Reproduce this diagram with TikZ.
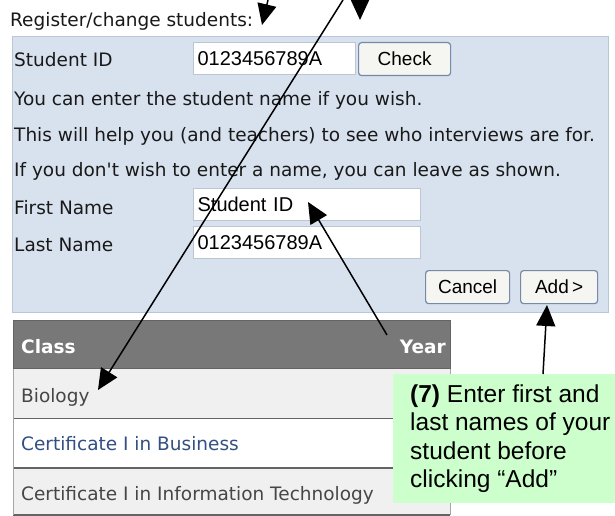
\documentclass[tikz,border=0pt]{standalone}
\usepackage{fontspec}
\setmainfont{DejaVu Sans}
\newfontfamily\formfont{Liberation Sans}
\usepackage{tikz}
\usetikzlibrary{arrows.meta,positioning,calc}
\usepackage{xcolor}
\definecolor{panelblue}{RGB}{216,226,238}
\definecolor{panelline}{RGB}{186,198,216}
\definecolor{fieldline}{RGB}{188,198,210}
\definecolor{btnline}{RGB}{118,138,168}
\definecolor{btnfill}{RGB}{245,245,241}
\definecolor{headgrey}{RGB}{120,120,120}
\definecolor{rowgrey}{RGB}{240,240,240}
\definecolor{rowline}{RGB}{100,100,100}
\definecolor{uitext}{RGB}{25,25,25}
\definecolor{cellgrey}{RGB}{70,70,70}
\definecolor{linkblue}{RGB}{50,80,130}
\definecolor{notegreen}{RGB}{204,255,204}
\tikzset{
    formlabel/.style={anchor=base west, inner sep=0pt, font=\fontsize{18.5}{22}\selectfont, text=uitext},
    formpanel/.style={draw=panelline, fill=panelblue, line width=1pt, anchor=north west, inner sep=0pt},
    formfield/.style={draw=fieldline, fill=white, line width=1.2pt, anchor=north west, inner xsep=4pt, inner ysep=0pt, minimum height=32pt, text width=#1, align=left, font=\formfont\fontsize{20}{22}\selectfont},
    formbutton/.style={draw=btnline, fill=btnfill, line width=1.2pt, rounded corners=3pt, anchor=north west, inner sep=0pt, minimum height=33pt, font=\formfont\fontsize{19}{22}\selectfont},
    tablehead/.style={fill=headgrey, draw=rowline, line width=1pt, anchor=north west, inner sep=0pt},
    tablerow/.style={minimum width=437pt, inner sep=0pt, anchor=north west},
    headtext/.style={inner sep=0pt, text=white, font=\bfseries\fontsize{18.5}{22}\selectfont},
    celltext/.style={anchor=base west, inner sep=0pt, font=\fontsize{18.5}{22}\selectfont},
    rowrule/.style={draw=rowline, line width=1.5pt},
    tableedge/.style={draw=gray!70, line width=1pt},
    notebox/.style={fill=notegreen, inner sep=0pt, anchor=north west},
    notetext/.style={align=left, inner sep=0pt, font=\formfont\fontsize{24.5}{28.5}\selectfont},
    callout/.style={-{Triangle[length=21pt,width=19pt]}, line width=1.5pt}
}
\begin{document}
\begin{tikzpicture}[x=1pt,y=-1pt]
        \clip (0,0) rectangle (615,516);
        \fill[white] (0,0) rectangle (615,516);

        \node[formlabel] (regtitle) at (10,27) {Register/change students:};

        % form panel
        \node[formpanel, minimum width=596pt, minimum height=276pt] (panel) at (12,36) {};
        \node[formlabel] (idlabel) at (14,67) {Student ID};
        \node[formfield=154pt] (idfield) at (193,42) {0123456789A};
        \node[formbutton, minimum width=92pt] (checkbtn) at (358,42) {Check};
        \node[formlabel] (hintone) at (14,106) {You can enter the student name if you wish.};
        \node[formlabel] (hinttwo) at (14,141) {This will help you (and teachers) to see who interviews are for.};
        \node[formlabel] (hintthree) at (14,176) {If you don\textquotesingle t wish to enter a name, you can leave as shown.};
        \node[formlabel] (firstlabel) at (14,214) {First Name};
        \node[formfield=219pt] (firstfield) at (193,188) {Student ID};
        \node[formlabel] (lastlabel) at (14,251) {Last Name};
        \node[formfield=219pt] (lastfield) at (193,226) {0123456789A};
        \node[formbutton, minimum width=84pt] (cancelbtn) at (425,270) {Cancel};
        \node[formbutton, minimum width=77pt] (addbtn) at (520,270) {Add\,>};

        % class table
        \node[tablehead, minimum width=437pt, minimum height=48pt] (header) at (13,320) {};
        \node[headtext, anchor=base west] (classcol) at (21,353) {Class};
        \node[headtext, anchor=base east] (yearcol) at (446,353) {Year};
        \node[tablerow, fill=rowgrey, minimum height=49pt] (rowbio) at (header.south west) {};
        \node[tablerow, fill=white, minimum height=49pt] (rowbus) at (rowbio.south west) {};
        \node[tablerow, fill=rowgrey, minimum height=47pt] (rowit) at (rowbus.south west) {};
        \node[celltext, text=cellgrey] (biotext) at (21,402) {Biology};
        \node[celltext, text=linkblue] (bustext) at (21,450) {Certificate I in Business};
        \node[celltext, text=cellgrey] (ittext) at (21,500) {Certificate I in Information Technology};
        \draw[rowrule] (rowbus.north west) -- (rowbus.north east);
        \draw[rowrule] (rowit.north west) -- (rowit.north east);
        \draw[rowrule] (rowit.south west) -- (rowit.south east);
        \draw[tableedge] (rowbio.north west) -- (rowit.south west);
        \draw[tableedge] (rowbio.north east) -- (rowit.south east);

        % note
        \node[notebox, minimum width=222pt, minimum height=129pt] (note) at (393,374) {};
        \node[notetext, right=17pt of note.west] (notetext) {\textbf{(7)} Enter first and\\last names of your\\student before\\clicking “Add”};

        % arrows
        \coordinate (regtail) at (268,0);
        \coordinate (regtip) at (262,25);
        \coordinate (droptail) at (360,-30);
        \coordinate (droptip) at (360,20);
        \coordinate (longtail) at (343,0);
        \coordinate (biotip) at (98,390);
        \coordinate (yeartail) at (387,335);
        \coordinate (firsttip) at (308,202);
        \coordinate (notetail) at (543,374);
        \coordinate (addtip) at (547,305);
        \draw[callout] (regtail) -- (regtip);
        \draw[callout] (droptail) -- (droptip);
        \draw[callout] (longtail) -- (biotip);
        \draw[callout] (yeartail) -- (firsttip);
        \draw[callout] (notetail) -- (addtip);
    \end{tikzpicture}
\end{document}
